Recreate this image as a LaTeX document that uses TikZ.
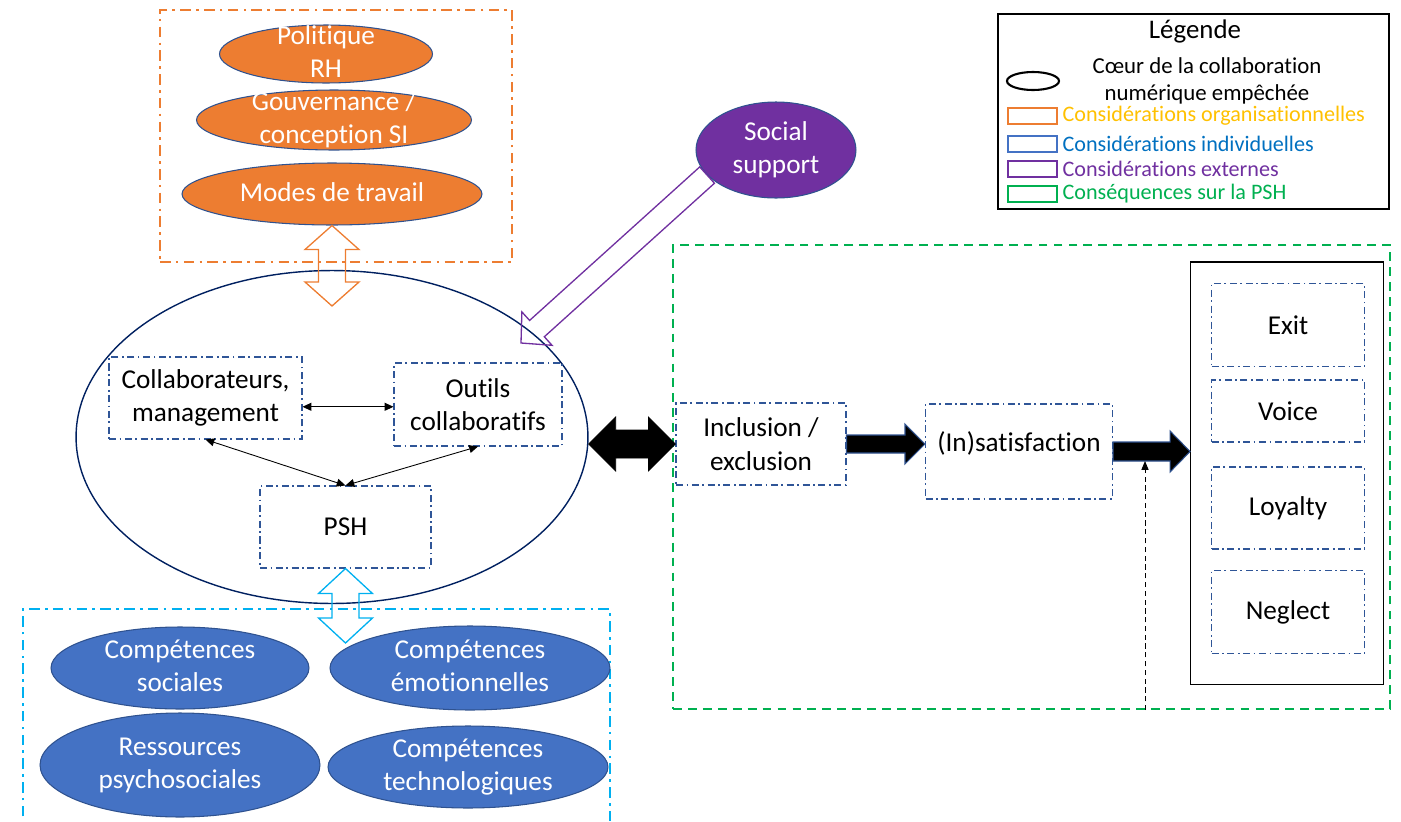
\documentclass[tikz,border=0pt]{standalone}
\usepackage{fontspec}
\setmainfont{Carlito}[Ligatures=NoCommon]
\usepackage{xcolor}
\usepackage{tikz}
\usetikzlibrary{shapes.geometric, arrows.meta, calc}

\definecolor{orgorange}{HTML}{ED7D31}
\definecolor{indblue}{HTML}{4472C4}
\definecolor{ellborder}{HTML}{2F528F}
\definecolor{boxblue}{HTML}{2F5597}
\definecolor{navy}{HTML}{002060}
\definecolor{indcyan}{HTML}{00B0F0}
\definecolor{extpurple}{HTML}{7030A0}
\definecolor{consgreen}{HTML}{00B050}
\definecolor{legyellow}{HTML}{FFC000}
\definecolor{legblue}{HTML}{0070C0}

\newcommand{\mainsize}{\fontsize{15.5}{19}\selectfont}
\newcommand{\legsize}{\fontsize{12.6}{15}\selectfont}
\newcommand{\elltext}[1]{\smash{\raisebox{-0.25em}{\begin{tabular}{@{}c@{}}#1\end{tabular}}}}

% block arrow: style, from, to, shaft half width, head half width, head length
\newcommand{\blockarrow}[6]{%
  \coordinate (bahead) at ($(#3)!#6!(#2)$);
  \draw[#1] ($(#2)!#4!90:(#3)$) -- ($(bahead)!#4!-90:(#2)$) -- ($(bahead)!#5!-90:(#2)$)
    -- (#3) -- ($(bahead)!#5!90:(#2)$) -- ($(bahead)!#4!90:(#2)$) -- ($(#2)!#4!-90:(#3)$) -- cycle;
}
% same, with a head at both ends
\newcommand{\dblockarrow}[6]{%
  \coordinate (baheadA) at ($(#2)!#6!(#3)$);
  \coordinate (baheadB) at ($(#3)!#6!(#2)$);
  \draw[#1] (#2) -- ($(baheadA)!#5!90:(#3)$) -- ($(baheadA)!#4!90:(#3)$)
    -- ($(baheadB)!#4!-90:(#2)$) -- ($(baheadB)!#5!-90:(#2)$) -- (#3)
    -- ($(baheadB)!#5!90:(#2)$) -- ($(baheadB)!#4!90:(#2)$)
    -- ($(baheadA)!#4!-90:(#3)$) -- ($(baheadA)!#5!-90:(#3)$) -- cycle;
}

\tikzset{
  orgell/.style={ellipse, draw=ellborder, line width=0.6pt, fill=orgorange, text=white,
                 inner sep=0pt, font=\mainsize},
  indell/.style={orgell, fill=indblue},
  subbox/.style={rectangle, draw=boxblue, line width=0.6pt, align=center, font=\mainsize,
                 dash pattern=on 4pt off 2pt on 1pt off 2pt},
  orggroup/.style={draw=orgorange, line width=1.1pt, dash pattern=on 6pt off 3pt on 1.5pt off 3pt},
  indgroup/.style={draw=indcyan, line width=1.1pt, dash pattern=on 6pt off 3pt on 1.5pt off 3pt},
  consgroup/.style={draw=consgreen, line width=1.4pt, dash pattern=on 5pt off 3.5pt},
  thinarrow/.style={<->, >={Triangle[length=5pt,width=4.5pt]}, line width=0.5pt},
  dasharrow/.style={->, >={Triangle[length=5pt,width=4pt]}, line width=0.5pt,
                    dash pattern=on 3pt off 2pt},
  hollow/.style={line width=0.75pt, line join=miter},
  solidarrow/.style={fill=black, draw=ellborder, line width=0.6pt, line join=miter},
  legrect/.style={rectangle, line width=1pt, minimum width=0.98cm, minimum height=0.32cm},
  legtext/.style={anchor=west, font=\legsize, inner sep=0pt},
}

\begin{document}
\begin{tikzpicture}[x=0.02cm, y=-0.02cm]
  \useasboundingbox (0,0) rectangle (1401,822);

  %% organisational considerations
  \node[orggroup, minimum width=7.04cm, minimum height=5.04cm] (orggrp) at (336,136) {};
  \node[orgell, minimum width=4.26cm, minimum height=1.16cm] (polrh) at (326,54) {\elltext{Politique\\RH}};
  \node[orgell, minimum width=5.5cm, minimum height=1.2cm] (gouv) at (334,120) {\elltext{Gouvernance /\\conception SI}};
  \node[orgell, minimum width=6cm, minimum height=1.24cm] (modes) at (332,194) {\elltext{Modes de travail}};

  %% core of the collaboration
  \node[ellipse, draw=navy, line width=0.8pt, inner sep=0pt, minimum width=10.24cm,
        minimum height=6.66cm] (coeur) at (332,437) {};
  \node[subbox, minimum width=3.86cm, minimum height=1.64cm] (collab) at (205.5,398) {Collaborateurs,\\management};
  \node[subbox, minimum width=3.36cm, minimum height=1.66cm] (outils) at (478,404.5) {Outils\\collaboratifs};
  \node[subbox, minimum width=3.42cm, minimum height=1.64cm] (psh) at (345.5,527) {PSH};

  \draw[thinarrow] ([yshift=-5pt]collab.east) -- ([yshift=-5pt]collab.east -| outils.west);
  \draw[thinarrow] (collab.south) -- (psh.north);
  \draw[thinarrow] (outils.south) -- (psh.north);

  %% individual considerations
  \draw[indgroup] (23,840) -- (23,609) -- (610,609) -- (610,840);
  \foreach \name/\x/\y/\w/\h/\lbl in {
    socl/180/668/5.16cm/1.64cm/{Compétences\\sociales},
    emot/470/668/5.6cm/1.68cm/{Compétences\\émotionnelles},
    ress/180/765/5.6cm/2.08cm/{Ressources\\psychosociales},
    tech/468/767/5.6cm/1.64cm/{Compétences\\technologiques}}
  {
    \node[indell, minimum width=\w, minimum height=\h] (\name) at (\x,\y) {\elltext{\lbl}};
  }

  %% external considerations
  \node[orgell, fill=extpurple, minimum width=3.2cm, minimum height=1.92cm] (social) at (776,150) {\elltext{Social\\support}};

  %% consequences
  \node[consgroup, minimum width=14.34cm, minimum height=9.28cm] (conseq) at (1031.5,477) {};
  \node[subbox, minimum width=3.4cm, minimum height=1.64cm] (incl) at (761,444) {Inclusion /\\exclusion};
  \node[subbox, minimum width=3.74cm, minimum height=1.9cm, text depth=11pt] (insat) at (1019,451.5) {(In)satisfaction};
  \node[draw, line width=0.8pt, minimum width=3.85cm, minimum height=8.45cm] (evlv) at (1287,473) {};
  \foreach \name/\lbl/\y/\h in {exit/Exit/325/1.66cm, voice/Voice/411/1.24cm,
                                loyal/Loyalty/508/1.64cm, negl/Neglect/612/1.66cm}
  {
    \node[subbox, minimum width=3.06cm, minimum height=\h] (\name) at (1288,\y) {\lbl};
  }

  %% block arrows
  \coordinate (orgtip) at (332,306);
  \dblockarrow{hollow, draw=orgorange}{modes.south}{orgtip}{0.27cm}{0.54cm}{0.48cm}
  \coordinate (indtip) at (345.5,643);
  \dblockarrow{hollow, draw=indcyan}{psh.south}{indtip}{0.27cm}{0.54cm}{0.5cm}
  \coordinate (suptip) at (521,343);
  \blockarrow{hollow, draw=extpurple}{social.200}{suptip}{0.22cm}{0.45cm}{0.43cm}
  \coordinate (coretip) at (coeur.east |- incl.west);
  \dblockarrow{fill=black, draw=black, line join=miter}{coretip}{incl.west}{0.28cm}{0.54cm}{0.54cm}
  \coordinate (insatin) at (insat.west |- incl.east);
  \blockarrow{solidarrow}{incl.east}{insatin}{0.18cm}{0.4cm}{0.4cm}
  \coordinate (evlvin) at (evlv.west |- insat.east);
  \blockarrow{solidarrow}{insat.east}{evlvin}{0.19cm}{0.41cm}{0.4cm}

  \coordinate (modtip) at (1145,461);
  \draw[dasharrow] (conseq.south -| modtip) -- (modtip);

  %% legend
  \node[draw, line width=0.8pt, minimum width=7.82cm, minimum height=3.9cm] (legend) at (1193.5,111.5) {};
  \node[font=\fontsize{15.3}{18}\selectfont] (legtitle) at (1195,31) {Légende};
  \node[ellipse, draw, line width=1.2pt, inner sep=0pt, minimum width=1.04cm, minimum height=0.36cm] (legcore) at (1033,81) {};
  \node[align=center, inner sep=0pt, font=\fontsize{13}{15.5}\selectfont] (legcoretxt) at (1207,81) {Cœur de la collaboration\\numérique empêchée};
  \foreach \name/\y/\rcol/\tcol/\lbl in {
    legorg/116/orgorange/legyellow/Considérations organisationnelles,
    legind/144/indblue/legblue/Considérations individuelles,
    legext/169/extpurple/extpurple/Considérations externes,
    legcons/194/consgreen/consgreen/Conséquences sur la PSH}
  {
    \node[legrect, draw=\rcol] (\name) at (1032.5,\y) {};
    \node[legtext, text=\tcol] (\name txt) at ([xshift=2.5pt]\name.east) {\lbl};
  }

\end{tikzpicture}
\end{document}
